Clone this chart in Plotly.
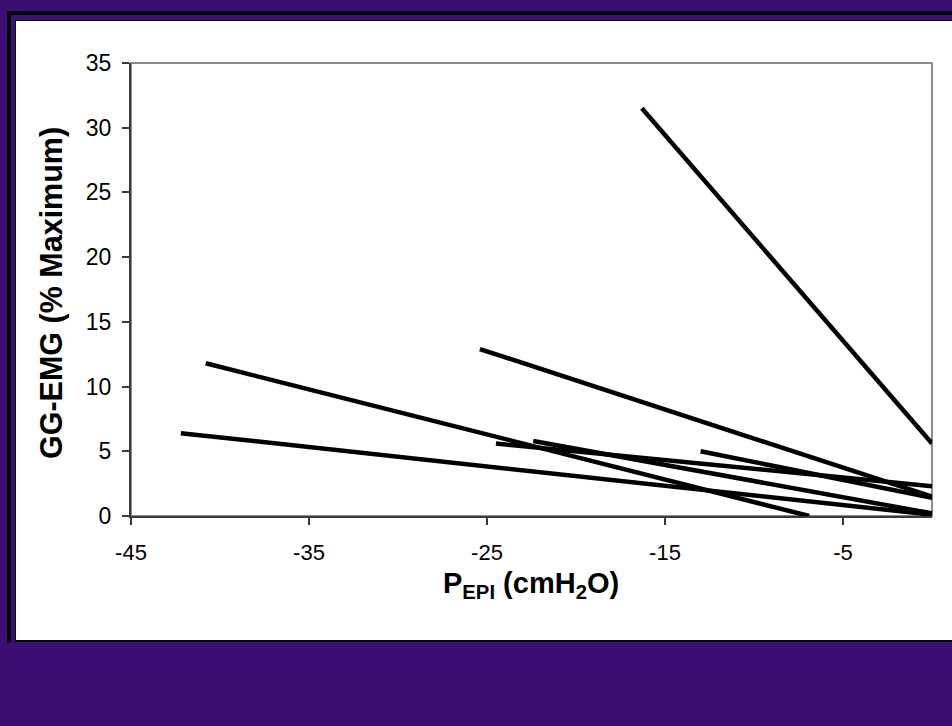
import plotly.graph_objects as go

# ---- data ----
line1_x = [-16.3, 0.0]
line1_y = [31.5, 5.6]
line2_x = [-25.4, 0.0]
line2_y = [12.9, 1.5]
line3_x = [-40.8, -6.9]
line3_y = [11.8, 0.0]
line4_x = [-42.2, 0.0]
line4_y = [6.4, 0.1]
line5_x = [-24.5, 0.0]
line5_y = [5.6, 2.3]
line6_x = [-22.4, 0.0]
line6_y = [5.8, 0.2]
line7_x = [-13.0, 0.0]
line7_y = [5.0, 1.4]

lines = [
    (line1_x, line1_y), (line2_x, line2_y), (line3_x, line3_y),
    (line4_x, line4_y), (line5_x, line5_y), (line6_x, line6_y),
    (line7_x, line7_y),
]

x_ticks = [-45, -35, -25, -15, -5]
y_ticks = [0, 5, 10, 15, 20, 25, 30, 35]

# ---- layout geometry (pixels) ----
W, H = 952, 726
L, R, T, B = 131, 932, 63, 516
PW, PH = R - L, B - T


def px(xp):
    return (xp - L) / PW


def py(yp):
    return (B - yp) / PH


FONT = "Liberation Sans, Arial, sans-serif"

fig = go.Figure()
for xs, ys in lines:
    fig.add_trace(go.Scatter(x=xs, y=ys, mode="lines",
                             line=dict(color="black", width=4.5),
                             showlegend=False, hoverinfo="skip"))

shapes = [
    dict(type="rect", xref="paper", yref="paper", x0=px(7), x1=px(W + 5),
         y0=py(11), y1=py(643), fillcolor="black", line=dict(width=0), layer="below"),
    dict(type="rect", xref="paper", yref="paper", x0=px(11), x1=px(W + 5),
         y0=py(15), y1=py(643), fillcolor="#3e0f78", line=dict(width=0), layer="below"),
    dict(type="rect", xref="paper", yref="paper", x0=px(15), x1=px(W + 5),
         y0=py(20), y1=py(642), fillcolor="black", line=dict(width=0), layer="below"),
    dict(type="rect", xref="paper", yref="paper", x0=px(16), x1=px(W + 5),
         y0=py(21), y1=py(640), fillcolor="white", line=dict(width=0), layer="below"),
    dict(type="rect", xref="paper", yref="paper", x0=0, x1=1, y0=0, y1=1,
         line=dict(color="#8c8c8c", width=2), layer="below"),
]

fig.update_layout(
    width=W, height=H,
    margin=dict(l=L, r=W - R, t=T, b=H - B),
    paper_bgcolor="#3c0e74",
    plot_bgcolor="white",
    shapes=shapes,
    font=dict(family=FONT, color="black"),
    xaxis=dict(range=[-45, 0], tickvals=x_ticks, ticktext=[str(v) for v in x_ticks],
               showgrid=False, zeroline=False, showline=True, linecolor="#3a3a3a",
               linewidth=2, ticks="outside", ticklen=7, tickwidth=1.5,
               tickcolor="#3a3a3a", tickfont=dict(size=22, family=FONT),
               ticklabelstandoff=9),
    yaxis=dict(range=[0, 35], tickvals=y_ticks, ticktext=[str(v) for v in y_ticks],
               showgrid=False, zeroline=False, showline=True, linecolor="#3a3a3a",
               linewidth=2, ticks="outside", ticklen=7, tickwidth=1.5,
               tickcolor="#3a3a3a", tickfont=dict(size=23, family=FONT),
               ticklabelstandoff=6),
    annotations=[
        dict(text="<b>GG-EMG (% Maximum)</b>", xref="paper", yref="paper",
             x=px(51), y=py(293), textangle=-90, showarrow=False,
             xanchor="center", yanchor="middle",
             font=dict(size=30.5, family=FONT, color="black")),
        dict(text="<b>P<sub>EPI</sub> (cmH<sub>2</sub>O)</b>", xref="paper", yref="paper",
             x=px(531), y=py(585), showarrow=False,
             xanchor="center", yanchor="middle",
             font=dict(size=29, family=FONT, color="black")),
    ],
)

fig.write_html("out.html",
               config={"displayModeBar": False},
               post_script="document.body.style.margin='0';document.body.style.padding='0';")
